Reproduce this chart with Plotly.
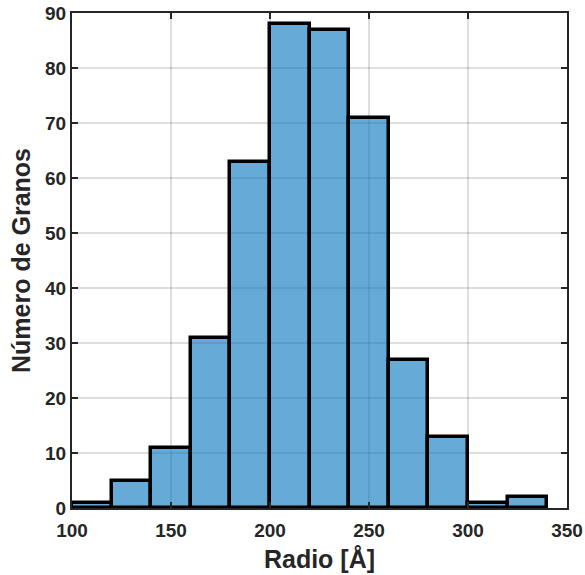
import plotly.graph_objects as go

bin_edges = [100, 120, 140, 160, 180, 200, 220, 240, 260, 280, 300, 320, 340]
counts = [1, 5, 11, 31, 63, 88, 87, 71, 27, 13, 1, 2]
x_ticks = [100, 150, 200, 250, 300, 350]
y_ticks = [0, 10, 20, 30, 40, 50, 60, 70, 80, 90]

centers = [(a + b) / 2 for a, b in zip(bin_edges[:-1], bin_edges[1:])]
widths = [b - a for a, b in zip(bin_edges[:-1], bin_edges[1:])]

fig = go.Figure(go.Bar(
    x=centers, y=counts, width=widths,
    marker=dict(color="rgba(0,114,189,0.6)", line=dict(color="black", width=3.5)),
))

axis_common = dict(
    showline=True, linecolor="#262626", linewidth=2, mirror="ticks",
    ticks="inside", ticklen=6, tickwidth=2, tickcolor="#262626",
    showgrid=True, gridcolor="rgba(0,0,0,0.13)", gridwidth=2,
    zeroline=False, automargin=False, ticklabeloverflow="allow",
    tickfont=dict(family="Liberation Sans", size=19, color="#262626", weight="bold"),
)

fig.update_xaxes(range=[100, 350], tickvals=x_ticks, ticklabelstandoff=4, **axis_common,
                 title=dict(text="Radio [Å]", font=dict(family="Liberation Sans", size=25, color="#262626", weight="bold"), standoff=11))
fig.update_yaxes(range=[0, 90], tickvals=y_ticks, **axis_common,
                 title=dict(text="Número de Granos", font=dict(family="Liberation Sans", size=25, color="#262626", weight="bold"), standoff=7))

fig.update_layout(
    width=585, height=575,
    margin=dict(l=72, r=18, t=13, b=67),
    plot_bgcolor="white", paper_bgcolor="white",
    showlegend=False, bargap=0,
    font=dict(family="Liberation Sans", color="#262626"),
)

fig.write_html("out.html", config={"displayModeBar": False},
               post_script="document.body.style.margin='0';")
